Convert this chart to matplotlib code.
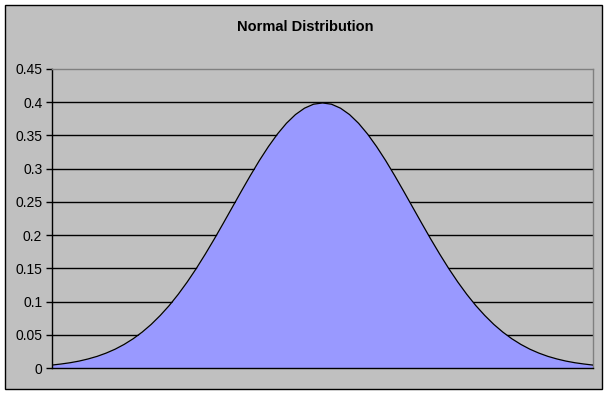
import matplotlib.pyplot as plt
from matplotlib.patches import Rectangle

# z values from -3 to 3 (step 0.1) and density
z = [round(-3 + 0.1 * i, 1) for i in range(61)]
half = [0.3989, 0.3970, 0.3910, 0.3814, 0.3683, 0.3521, 0.3332, 0.3123,
        0.2897, 0.2661, 0.2420, 0.2179, 0.1942, 0.1714, 0.1497, 0.1295,
        0.1109, 0.0940, 0.0790, 0.0656, 0.0540, 0.0440, 0.0355, 0.0283,
        0.0224, 0.0175, 0.0136, 0.0104, 0.0079, 0.0060, 0.0044]
density = half[::-1] + half[1:]
yticks = [0, 0.05, 0.1, 0.15, 0.2, 0.25, 0.3, 0.35, 0.4, 0.45]
title = 'Normal Distribution'

W, H = 608, 394
fig = plt.figure(figsize=(W / 100, H / 100), dpi=100)
fig.patch.set_facecolor('white')

# chart area frame, on its own background axes
bg = fig.add_axes([0, 0, 1, 1])
bg.set_xlim(0, W)
bg.set_ylim(H, 0)
bg.axis('off')
bg.add_patch(Rectangle((5, 5), 597, 384, facecolor='#C0C0C0',
                       edgecolor='black', linewidth=1))

l, r, t, b = 52, 593, 69, 368
ax = fig.add_axes([l / W, 1 - b / H, (r - l) / W, (b - t) / H])
ax.set_zorder(2)
ax.set_facecolor('#C0C0C0')

ax.fill_between(z, density, 0, color='#9999FF', linewidth=0, zorder=2)
ax.plot(z, density, color='black', linewidth=0.9, zorder=3)

ax.set_xlim(-3, 3)
ax.set_ylim(0, 0.45)
ax.set_yticks(yticks)
ax.set_yticklabels(['0' if v == 0 else ('%g' % v) for v in yticks],
                   fontfamily='Liberation Sans', fontsize=10)
ax.set_xticks([])
ax.tick_params(axis='y', direction='out', length=4, width=1, pad=3)

for v in yticks[1:-1]:
    ax.axhline(v, color='black', linewidth=1, zorder=1)

ax.spines['top'].set_color('#808080')
ax.spines['right'].set_color('#808080')
ax.spines['left'].set_color('black')
ax.spines['bottom'].set_color('black')
for s in ax.spines.values():
    s.set_linewidth(1)
ax.spines['bottom'].set_zorder(4)

fig.text(305 / W, 1 - 27 / H, title, ha='center', va='center',
         fontfamily='Liberation Sans', fontweight='bold', fontsize=10.5)

plt.savefig('out.png', dpi=100)
